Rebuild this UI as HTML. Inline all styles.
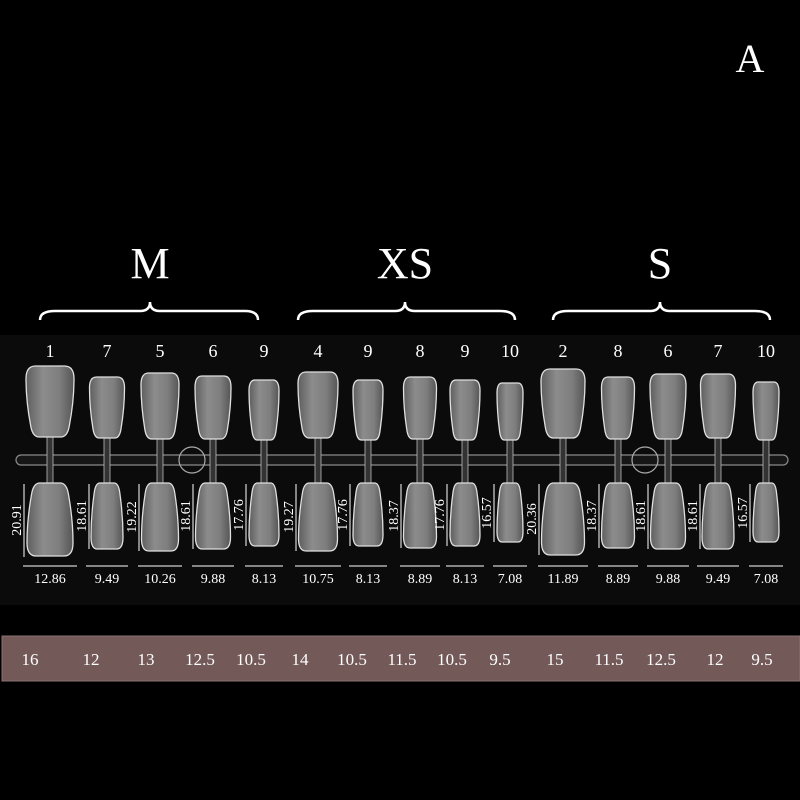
<!DOCTYPE html>
<html><head><meta charset="utf-8"><style>
html,body{margin:0;padding:0;background:#000;}
svg{display:block}
text{font-family:"Liberation Serif",serif;fill:#fff}
</style></head><body>
<svg width="800" height="800" viewBox="0 0 800 800" xmlns="http://www.w3.org/2000/svg">
<defs>
<linearGradient id="g" x1="0" y1="0" x2="1" y2="0">
<stop offset="0" stop-color="#5e5e5e"/><stop offset="0.35" stop-color="#8c8c8c"/><stop offset="0.7" stop-color="#7e7e7e"/><stop offset="1" stop-color="#555"/>
</linearGradient>
<path id="n" d="M0.2,0 H0.8 Q1,0 1,0.18 Q1,0.5 0.9,0.85 Q0.86,1 0.72,1 H0.28 Q0.14,1 0.1,0.85 Q0,0.5 0,0.18 Q0,0 0.2,0 Z" fill="url(#g)" stroke="#e0e0e0" stroke-width="1.3" vector-effect="non-scaling-stroke"/>
</defs>
<rect x="0" y="0" width="800" height="800" fill="#000"/>
<rect x="0" y="335" width="800" height="270" fill="#0b0b0b"/>
<text x="750" y="72" font-size="40" text-anchor="middle">A</text>
<g font-size="44" text-anchor="middle"><text x="150" y="278">M</text><text x="405" y="278">XS</text><text x="660" y="278">S</text></g>
<g fill="none" stroke="#fff" stroke-width="2.5">
<path d="M40,320 Q40,311 55,311 L140,311 Q150,311 150,302 Q150,311 160,311 L245,311 Q258,311 258,320"/>
<path d="M298,320 Q298,311 313,311 L395,311 Q405,311 405,302 Q405,311 415,311 L500,311 Q515,311 515,320"/>
<path d="M553,320 Q553,311 568,311 L650,311 Q660,311 660,302 Q660,311 670,311 L755,311 Q770,311 770,320"/>
</g>
<rect x="16" y="455" width="772" height="10" rx="5" fill="#161616" stroke="#8a8a8a" stroke-width="1.2"/>
<circle cx="192" cy="460" r="13" fill="none" stroke="#aaa" stroke-width="1.2"/>
<circle cx="645" cy="460" r="13" fill="none" stroke="#aaa" stroke-width="1.2"/>
<g font-size="14">
<g transform="translate(50,0)">
<rect x="-3" y="436" width="6" height="52" fill="#333" stroke="#bbb" stroke-width="0.8"/>
<use href="#n" transform="translate(-24,366) scale(48,71)"/>
<use href="#n" transform="translate(-23,556) scale(46,-73)"/>
<text x="0" y="357" font-size="18" text-anchor="middle">1</text>
<line x1="-26" y1="484" x2="-26" y2="557" stroke="#fff"/>
<text transform="translate(-29,520) rotate(-90)" text-anchor="middle">20.91</text>
<line x1="-27" y1="566" x2="27" y2="566" stroke="#fff"/>
<text x="0" y="583" text-anchor="middle">12.86</text>
</g>
<g transform="translate(107,0)">
<rect x="-3" y="436" width="6" height="52" fill="#333" stroke="#bbb" stroke-width="0.8"/>
<use href="#n" transform="translate(-17.5,377) scale(35,61)"/>
<use href="#n" transform="translate(-16,549) scale(32,-66)"/>
<text x="0" y="357" font-size="18" text-anchor="middle">7</text>
<line x1="-18" y1="484" x2="-18" y2="549" stroke="#fff"/>
<text transform="translate(-21,516) rotate(-90)" text-anchor="middle">18.61</text>
<line x1="-21" y1="566" x2="21" y2="566" stroke="#fff"/>
<text x="0" y="583" text-anchor="middle">9.49</text>
</g>
<g transform="translate(160,0)">
<rect x="-3" y="436" width="6" height="52" fill="#333" stroke="#bbb" stroke-width="0.8"/>
<use href="#n" transform="translate(-19,373) scale(38,66)"/>
<use href="#n" transform="translate(-18.5,551) scale(37,-68)"/>
<text x="0" y="357" font-size="18" text-anchor="middle">5</text>
<line x1="-21" y1="484" x2="-21" y2="551" stroke="#fff"/>
<text transform="translate(-24,517) rotate(-90)" text-anchor="middle">19.22</text>
<line x1="-22" y1="566" x2="22" y2="566" stroke="#fff"/>
<text x="0" y="583" text-anchor="middle">10.26</text>
</g>
<g transform="translate(213,0)">
<rect x="-3" y="436" width="6" height="52" fill="#333" stroke="#bbb" stroke-width="0.8"/>
<use href="#n" transform="translate(-18,376) scale(36,63)"/>
<use href="#n" transform="translate(-17.5,549) scale(35,-66)"/>
<text x="0" y="357" font-size="18" text-anchor="middle">6</text>
<line x1="-20" y1="484" x2="-20" y2="549" stroke="#fff"/>
<text transform="translate(-23,516) rotate(-90)" text-anchor="middle">18.61</text>
<line x1="-21" y1="566" x2="21" y2="566" stroke="#fff"/>
<text x="0" y="583" text-anchor="middle">9.88</text>
</g>
<g transform="translate(264,0)">
<rect x="-3" y="436" width="6" height="52" fill="#333" stroke="#bbb" stroke-width="0.8"/>
<use href="#n" transform="translate(-15,380) scale(30,60)"/>
<use href="#n" transform="translate(-15,546) scale(30,-63)"/>
<text x="0" y="357" font-size="18" text-anchor="middle">9</text>
<line x1="-18" y1="484" x2="-18" y2="546" stroke="#fff"/>
<text transform="translate(-21,515) rotate(-90)" text-anchor="middle">17.76</text>
<line x1="-19" y1="566" x2="19" y2="566" stroke="#fff"/>
<text x="0" y="583" text-anchor="middle">8.13</text>
</g>
<g transform="translate(318,0)">
<rect x="-3" y="436" width="6" height="52" fill="#333" stroke="#bbb" stroke-width="0.8"/>
<use href="#n" transform="translate(-20,372) scale(40,66)"/>
<use href="#n" transform="translate(-19.5,551) scale(39,-68)"/>
<text x="0" y="357" font-size="18" text-anchor="middle">4</text>
<line x1="-22" y1="484" x2="-22" y2="551" stroke="#fff"/>
<text transform="translate(-25,517) rotate(-90)" text-anchor="middle">19.27</text>
<line x1="-23" y1="566" x2="23" y2="566" stroke="#fff"/>
<text x="0" y="583" text-anchor="middle">10.75</text>
</g>
<g transform="translate(368,0)">
<rect x="-3" y="436" width="6" height="52" fill="#333" stroke="#bbb" stroke-width="0.8"/>
<use href="#n" transform="translate(-15,380) scale(30,60)"/>
<use href="#n" transform="translate(-15,546) scale(30,-63)"/>
<text x="0" y="357" font-size="18" text-anchor="middle">9</text>
<line x1="-18" y1="484" x2="-18" y2="546" stroke="#fff"/>
<text transform="translate(-21,515) rotate(-90)" text-anchor="middle">17.76</text>
<line x1="-19" y1="566" x2="19" y2="566" stroke="#fff"/>
<text x="0" y="583" text-anchor="middle">8.13</text>
</g>
<g transform="translate(420,0)">
<rect x="-3" y="436" width="6" height="52" fill="#333" stroke="#bbb" stroke-width="0.8"/>
<use href="#n" transform="translate(-16.5,377) scale(33,62)"/>
<use href="#n" transform="translate(-16.5,548) scale(33,-65)"/>
<text x="0" y="357" font-size="18" text-anchor="middle">8</text>
<line x1="-19" y1="484" x2="-19" y2="548" stroke="#fff"/>
<text transform="translate(-22,516) rotate(-90)" text-anchor="middle">18.37</text>
<line x1="-20" y1="566" x2="20" y2="566" stroke="#fff"/>
<text x="0" y="583" text-anchor="middle">8.89</text>
</g>
<g transform="translate(465,0)">
<rect x="-3" y="436" width="6" height="52" fill="#333" stroke="#bbb" stroke-width="0.8"/>
<use href="#n" transform="translate(-15,380) scale(30,60)"/>
<use href="#n" transform="translate(-15,546) scale(30,-63)"/>
<text x="0" y="357" font-size="18" text-anchor="middle">9</text>
<line x1="-18" y1="484" x2="-18" y2="546" stroke="#fff"/>
<text transform="translate(-21,515) rotate(-90)" text-anchor="middle">17.76</text>
<line x1="-19" y1="566" x2="19" y2="566" stroke="#fff"/>
<text x="0" y="583" text-anchor="middle">8.13</text>
</g>
<g transform="translate(510,0)">
<rect x="-3" y="436" width="6" height="52" fill="#333" stroke="#bbb" stroke-width="0.8"/>
<use href="#n" transform="translate(-13,383) scale(26,57)"/>
<use href="#n" transform="translate(-13,542) scale(26,-59)"/>
<text x="0" y="357" font-size="18" text-anchor="middle">10</text>
<line x1="-16" y1="484" x2="-16" y2="542" stroke="#fff"/>
<text transform="translate(-19,513) rotate(-90)" text-anchor="middle">16.57</text>
<line x1="-17" y1="566" x2="17" y2="566" stroke="#fff"/>
<text x="0" y="583" text-anchor="middle">7.08</text>
</g>
<g transform="translate(563,0)">
<rect x="-3" y="436" width="6" height="52" fill="#333" stroke="#bbb" stroke-width="0.8"/>
<use href="#n" transform="translate(-22,369) scale(44,69)"/>
<use href="#n" transform="translate(-21.5,555) scale(43,-72)"/>
<text x="0" y="357" font-size="18" text-anchor="middle">2</text>
<line x1="-24" y1="484" x2="-24" y2="555" stroke="#fff"/>
<text transform="translate(-27,519) rotate(-90)" text-anchor="middle">20.36</text>
<line x1="-25" y1="566" x2="25" y2="566" stroke="#fff"/>
<text x="0" y="583" text-anchor="middle">11.89</text>
</g>
<g transform="translate(618,0)">
<rect x="-3" y="436" width="6" height="52" fill="#333" stroke="#bbb" stroke-width="0.8"/>
<use href="#n" transform="translate(-16.5,377) scale(33,62)"/>
<use href="#n" transform="translate(-16.5,548) scale(33,-65)"/>
<text x="0" y="357" font-size="18" text-anchor="middle">8</text>
<line x1="-19" y1="484" x2="-19" y2="548" stroke="#fff"/>
<text transform="translate(-22,516) rotate(-90)" text-anchor="middle">18.37</text>
<line x1="-20" y1="566" x2="20" y2="566" stroke="#fff"/>
<text x="0" y="583" text-anchor="middle">8.89</text>
</g>
<g transform="translate(668,0)">
<rect x="-3" y="436" width="6" height="52" fill="#333" stroke="#bbb" stroke-width="0.8"/>
<use href="#n" transform="translate(-18,374) scale(36,65)"/>
<use href="#n" transform="translate(-17.5,549) scale(35,-66)"/>
<text x="0" y="357" font-size="18" text-anchor="middle">6</text>
<line x1="-20" y1="484" x2="-20" y2="549" stroke="#fff"/>
<text transform="translate(-23,516) rotate(-90)" text-anchor="middle">18.61</text>
<line x1="-21" y1="566" x2="21" y2="566" stroke="#fff"/>
<text x="0" y="583" text-anchor="middle">9.88</text>
</g>
<g transform="translate(718,0)">
<rect x="-3" y="436" width="6" height="52" fill="#333" stroke="#bbb" stroke-width="0.8"/>
<use href="#n" transform="translate(-17.5,374) scale(35,64)"/>
<use href="#n" transform="translate(-16,549) scale(32,-66)"/>
<text x="0" y="357" font-size="18" text-anchor="middle">7</text>
<line x1="-18" y1="484" x2="-18" y2="549" stroke="#fff"/>
<text transform="translate(-21,516) rotate(-90)" text-anchor="middle">18.61</text>
<line x1="-21" y1="566" x2="21" y2="566" stroke="#fff"/>
<text x="0" y="583" text-anchor="middle">9.49</text>
</g>
<g transform="translate(766,0)">
<rect x="-3" y="436" width="6" height="52" fill="#333" stroke="#bbb" stroke-width="0.8"/>
<use href="#n" transform="translate(-13,382) scale(26,58)"/>
<use href="#n" transform="translate(-13,542) scale(26,-59)"/>
<text x="0" y="357" font-size="18" text-anchor="middle">10</text>
<line x1="-16" y1="484" x2="-16" y2="542" stroke="#fff"/>
<text transform="translate(-19,513) rotate(-90)" text-anchor="middle">16.57</text>
<line x1="-17" y1="566" x2="17" y2="566" stroke="#fff"/>
<text x="0" y="583" text-anchor="middle">7.08</text>
</g>
</g>
<rect x="2" y="636" width="798" height="45" fill="#735a59" stroke="#8a7170" stroke-width="1"/>
<g font-size="17" text-anchor="middle">
<text x="30" y="665">16</text><text x="91" y="665">12</text><text x="146" y="665">13</text>
<text x="200" y="665">12.5</text><text x="251" y="665">10.5</text><text x="300" y="665">14</text>
<text x="352" y="665">10.5</text><text x="402" y="665">11.5</text><text x="452" y="665">10.5</text>
<text x="500" y="665">9.5</text><text x="555" y="665">15</text><text x="609" y="665">11.5</text>
<text x="661" y="665">12.5</text><text x="715" y="665">12</text><text x="762" y="665">9.5</text>
</g>
</svg>
</body></html>
